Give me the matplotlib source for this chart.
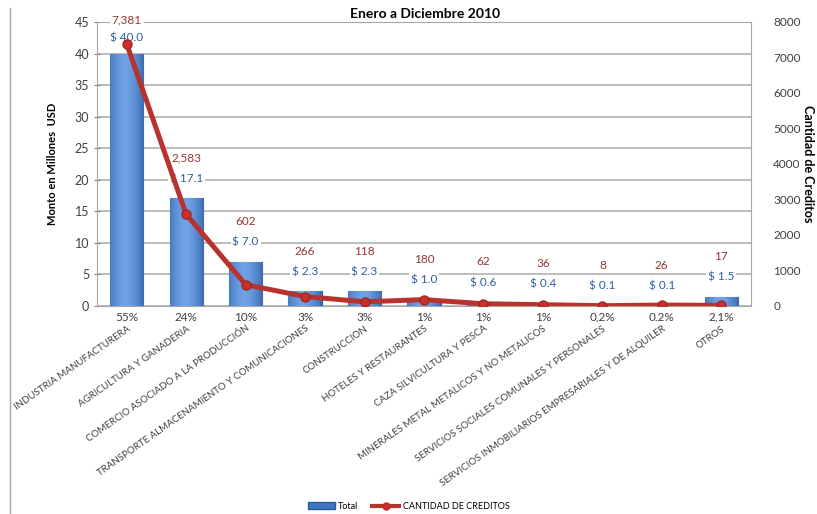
import matplotlib
matplotlib.use("Agg")
import matplotlib.pyplot as plt
import numpy as np
from matplotlib.lines import Line2D
from matplotlib.patches import Patch

plt.rcParams["font.family"] = ["Lato", "DejaVu Sans"]

sectores = [
    "INDUSTRIA MANUFACTURERA",
    "AGRICULTURA Y GANADERIA",
    "COMERCIO ASOCIADO A LA PRODUCCIÓN",
    "TRANSPORTE ALMACENAMIENTO Y COMUNICACIONES",
    "CONSTRUCCION",
    "HOTELES Y RESTAURANTES",
    "CAZA SILVICULTURA Y PESCA",
    "MINERALES METAL METALICOS Y NO METALICOS",
    "SERVICIOS SOCIALES COMUNALES Y PERSONALES",
    "SERVICIOS INMOBILIARIOS EMPRESARIALES Y DE ALQUILER",
    "OTROS",
]
monto = [40.0, 17.1, 7.0, 2.3, 2.3, 1.0, 0.6, 0.4, 0.1, 0.1, 1.5]
creditos = [7381, 2583, 602, 266, 118, 180, 62, 36, 8, 26, 17]
porcentaje = ["55%", "24%", "10%", "3%", "3%", "1%", "1%", "1%", "0,2%", "0.2%", "2,1%"]

BLUE = "#3F76C2"
RED = "#B8322E"
GRID = "#BDBDBD"
TXT = "#404040"

fig = plt.figure(figsize=(8.17, 5.14), dpi=100)
ax = fig.add_axes([0.1187, 0.4047, 0.8005, 0.5525])
ax2 = ax.twinx()

x = np.arange(len(sectores))
bars = ax.bar(x, monto, width=0.56, color=BLUE, edgecolor="#2A5A98", linewidth=0.8, zorder=2)

# cylinder-like shading on the bars
grad = np.linspace(0, 1, 64)
shade = 1 - 0.55 * (2 * np.abs(grad - 0.45)) ** 1.6
cmap = matplotlib.colors.LinearSegmentedColormap.from_list("b", ["#1F4E8F", "#6FA3E6"])
for b in bars:
    bx, by = b.get_x(), b.get_y()
    im = ax.imshow(shade[None, :], extent=(bx, bx + b.get_width(), by, by + b.get_height()),
                   aspect="auto", cmap=cmap, vmin=0, vmax=1, zorder=2.1)
    im.set_clip_path(b)

ax.set_xlim(-0.5, len(sectores) - 0.5)
ax.set_ylim(0, 45)
ax.set_yticks(range(0, 46, 5))
ax.yaxis.grid(True, color=GRID, linewidth=1.4)
ax.set_axisbelow(True)
for s in ax.spines.values():
    s.set_color("#A6A6A6")
ax.tick_params(axis="y", colors="#7F7F7F", labelcolor=TXT, labelsize=9, length=4, direction="inout")
ax.tick_params(axis="x", length=0, pad=13)
ax.set_xticks(x)
ax.set_xticklabels(sectores, rotation=35, ha="right", rotation_mode="anchor",
                   fontsize=7, color=TXT)
ax.set_ylabel("Monto en Millones  USD", fontsize=8, fontweight="bold", labelpad=12)

ax2.plot(x, creditos, color=RED, linewidth=3.6, marker="o", markersize=6.5,
         markerfacecolor="#C9302C", markeredgecolor="#9E2A27", zorder=5)
ax2.set_ylim(0, 8000)
ax2.set_yticks(range(0, 8001, 1000))
ax2.tick_params(axis="y", length=0, labelsize=8.5, labelcolor=TXT, pad=16)
for s in ax2.spines.values():
    s.set_visible(False)
ax2.set_ylabel("Cantidad de Creditos", fontsize=9, fontweight="bold", rotation=-90, va="center")
ax2.yaxis.set_label_coords(1.087, 0.5)

for i, v in enumerate(monto):
    off_m, off_c = (11, 24) if v > 35 else (14, 29)
    ax.annotate(f"$ {v:.1f}", (i, v), xytext=(0, off_m), textcoords="offset points",
                ha="center", va="center", fontsize=8.5, color="#2E5E9E",
                bbox=dict(boxstyle="square,pad=0.15", fc="white", ec="none"), zorder=6)
    ax.annotate(f"{creditos[i]:,}", (i, v), xytext=(0, off_c), textcoords="offset points",
                ha="center", va="center", fontsize=8.5, color="#943634",
                bbox=dict(boxstyle="square,pad=0.15", fc="white", ec="none"), zorder=6)
    ax.annotate(porcentaje[i], (i, 0), xytext=(0, -8), textcoords="offset points",
                ha="center", va="center", fontsize=8.5, color=TXT, annotation_clip=False)

fig.text(0.52, 0.973, "Enero a Diciembre 2010", ha="center", va="center",
         fontsize=10, fontweight="bold")
fig.add_artist(Line2D([0.0125, 0.0125], [0, 0.985], color="#A6A6A6", linewidth=1))

handles = [Patch(facecolor=BLUE, edgecolor="#2A5A98", label="Total"),
           Line2D([], [], color=RED, linewidth=3, marker="o", markersize=5,
                  markerfacecolor="#C9302C", label="CANTIDAD DE CREDITOS")]
fig.legend(handles=handles, loc="center", bbox_to_anchor=(0.5, 0.015), ncol=2,
           frameon=False, fontsize=6.5, handlelength=3, columnspacing=1.5, handletextpad=0.4)

fig.savefig("out.png", dpi=100)
